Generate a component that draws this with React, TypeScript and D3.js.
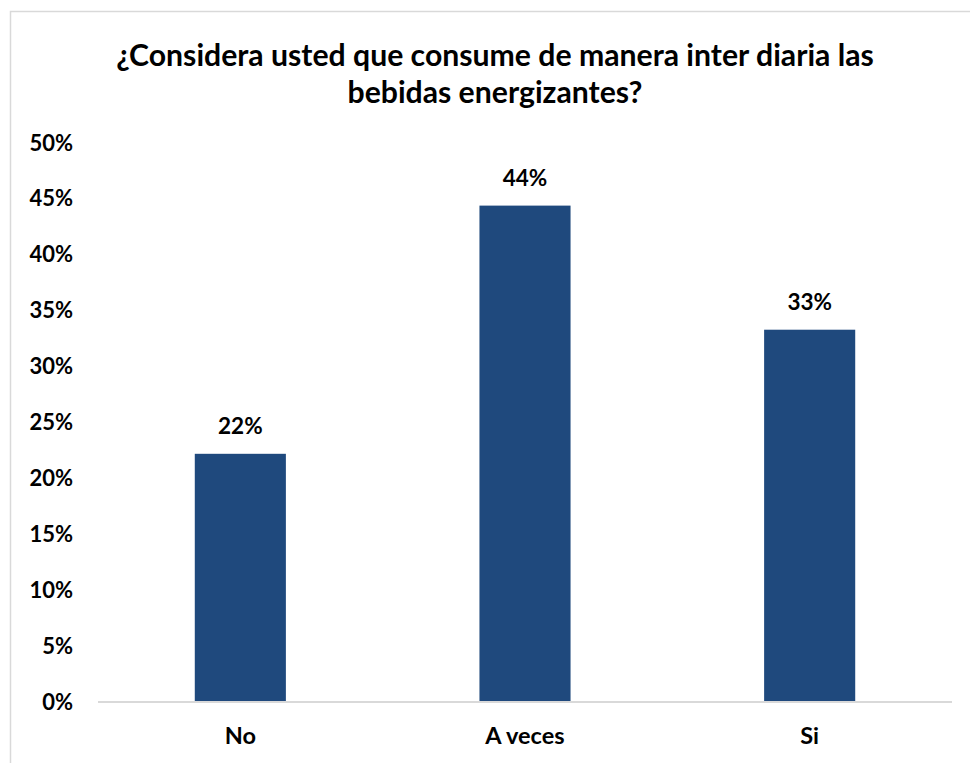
import React from "react";
import * as d3 from "d3";

const categories: string[] = ["No", "A veces", "Si"];
const values: number[] = [0.222, 0.444, 0.333];
const yTicks: number[] = [0, 0.05, 0.1, 0.15, 0.2, 0.25, 0.3, 0.35, 0.4, 0.45, 0.5];
const titleLines: string[] = [
  "¿Considera usted que consume de manera inter diaria las",
  "bebidas energizantes?",
];

const W = 970;
const H = 763;
const FONT = "Lato, 'Open Sans', sans-serif";

export default function App() {
  const x = d3
    .scaleBand<string>()
    .domain(categories)
    .range([98, 952])
    .paddingInner(0.68)
    .paddingOuter(0.34);
  const y = d3.scaleLinear().domain([0, 0.5]).range([702, 143]);
  const pct = d3.format(".0%");

  return (
    <svg
      width={W}
      height={H}
      style={{ position: "absolute", left: 0, top: 0, background: "#fff" }}
      fontFamily={FONT}
    >
      {/* chart frame */}
      <rect x={10.5} y={11.5} width={W + 20} height={H + 20} fill="#fff" stroke="#d9d9d9" strokeWidth={1.5} />

      {/* title */}
      {titleLines.map((t, i) => (
        <text
          key={i}
          x={495}
          y={66 + i * 37}
          textAnchor="middle"
          fontSize={30.2}
          fontWeight={700}
          fill="#000"
        >
          {t}
        </text>
      ))}

      {/* y tick labels */}
      {yTicks.map((t) => (
        <text
          key={t}
          x={73}
          y={y(t) + 7.5}
          textAnchor="end"
          fontSize={22}
          fontWeight={700}
          fill="#000"
        >
          {pct(t)}
        </text>
      ))}

      {/* bars */}
      {categories.map((c, i) => (
        <rect
          key={c}
          x={x(c)}
          y={y(values[i])}
          width={x.bandwidth()}
          height={y(0) - y(values[i])}
          fill="#1f497d"
        />
      ))}

      {/* value labels */}
      {categories.map((c, i) => (
        <text
          key={c}
          x={(x(c) as number) + x.bandwidth() / 2}
          y={y(values[i]) - 19.5}
          textAnchor="middle"
          fontSize={22.5}
          fontWeight={700}
          fill="#000"
        >
          {pct(values[i])}
        </text>
      ))}

      {/* x axis line */}
      <line x1={98} x2={952} y1={702} y2={702} stroke="#d9d9d9" strokeWidth={2} />

      {/* category labels */}
      {categories.map((c) => (
        <text
          key={c}
          x={(x(c) as number) + x.bandwidth() / 2}
          y={744}
          textAnchor="middle"
          fontSize={23.5}
          fontWeight={700}
          fill="#000"
        >
          {c}
        </text>
      ))}
    </svg>
  );
}
